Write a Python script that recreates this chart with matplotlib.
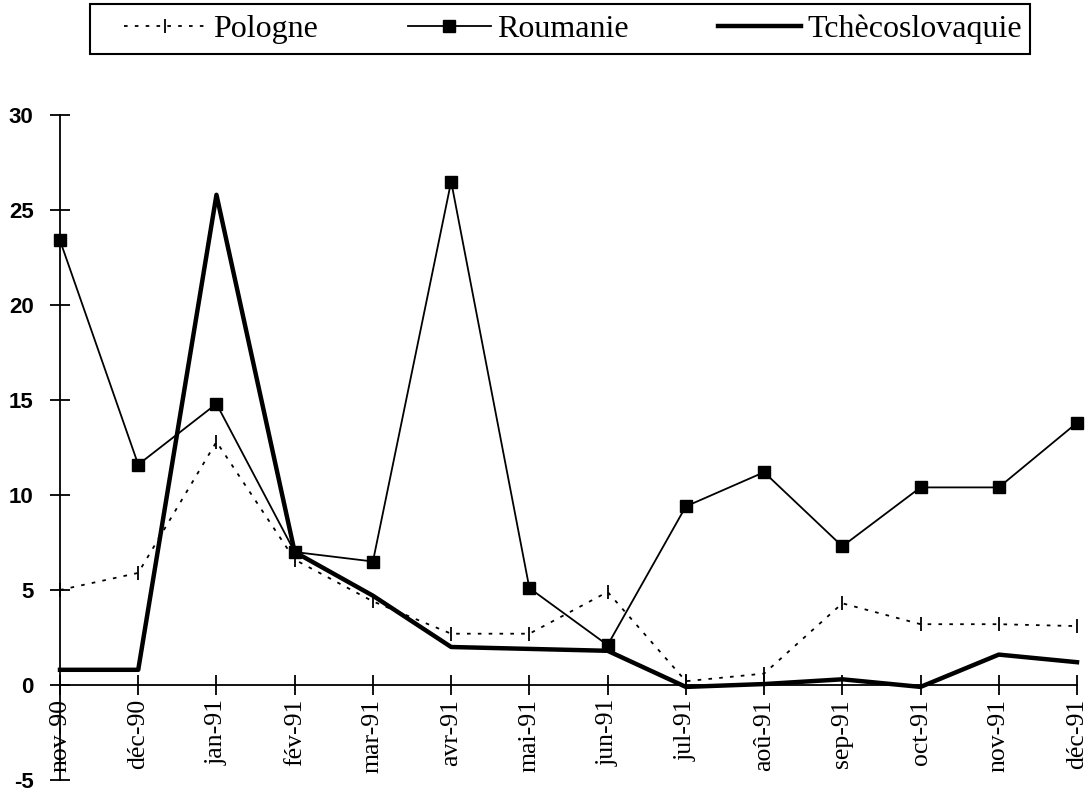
import matplotlib
matplotlib.use("Agg")
import matplotlib.pyplot as plt
from matplotlib.patches import Rectangle
import numpy as np

plt.rcParams["axes.unicode_minus"] = False

months = ["nov-90", "déc-90", "jan-91", "fév-91", "mar-91", "avr-91", "mai-91",
          "jun-91", "jul-91", "aoû-91", "sep-91", "oct-91", "nov-91", "déc-91"]
pologne = [5.0, 5.9, 12.8, 6.6, 4.4, 2.7, 2.7, 4.9, 0.2, 0.6, 4.3, 3.2, 3.2, 3.1]
roumanie = [23.4, 11.6, 14.8, 7.0, 6.5, 26.5, 5.1, 2.1, 9.4, 11.2, 7.3, 10.4, 10.4, 13.8]
tchecoslovaquie = [0.8, 0.8, 25.8, 7.0, 4.7, 2.0, 1.9, 1.8, -0.1, 0.05, 0.3, -0.1, 1.6, 1.2]

serif = ["Liberation Serif", "DejaVu Serif"]
sans = ["Liberation Sans", "DejaVu Sans"]

W, H = 1087, 793
fig = plt.figure(figsize=(W / 100, H / 100), dpi=100)
# axes: x from 60 to 1077 px, y from 115 (30) to 780 (-5)
ax = fig.add_axes([60 / W, 1 - 780 / H, 1017 / W, 665 / H])

x = np.arange(len(months))
ax.plot(x, pologne, color="black", lw=1.3, linestyle=(0, (2, 4)),
        marker="|", markersize=10, markeredgewidth=1.3, label="Pologne", clip_on=False)
ax.plot(x, roumanie, color="black", lw=1.3, marker="s", markersize=9,
        label="Roumanie", clip_on=False)
ax.plot(x, tchecoslovaquie, color="black", lw=3.2, label="Tchècoslovaquie", clip_on=False)

ax.spines["top"].set_visible(False)
ax.spines["right"].set_visible(False)
ax.spines["bottom"].set_position(("data", 0))
ax.spines["left"].set_linewidth(1.3)
ax.spines["bottom"].set_linewidth(1.3)
ax.tick_params(axis="both", direction="inout", length=14, width=1.3, color="black")
ax.tick_params(axis="y", pad=12)
ax.tick_params(axis="x", pad=3)

ax.set_xlim(0, len(months) - 1)
ax.set_ylim(-5, 30)
ax.set_yticks(range(-5, 31, 5))
ax.set_xticks(x)
ax.set_xticklabels(months, rotation=90, fontfamily=serif, fontsize=18.5)
ax.set_yticklabels([str(v) for v in range(-5, 31, 5)], fontfamily=sans,
                   fontweight="bold", fontsize=16)

# legend frame drawn by hand, legend entries placed inside it
fig.patches.append(Rectangle((90 / W, 1 - 54 / H), 940 / W, 50 / H,
                             transform=fig.transFigure, fill=False,
                             edgecolor="black", linewidth=1.5))
leg = fig.legend(loc="center", bbox_to_anchor=(573 / W, 1 - 29 / H),
                 ncol=3, frameon=False, prop={"family": serif, "size": 23},
                 handlelength=2.6, handletextpad=0.2, borderaxespad=0,
                 columnspacing=2.8)

fig.savefig("out.png", dpi=100)
